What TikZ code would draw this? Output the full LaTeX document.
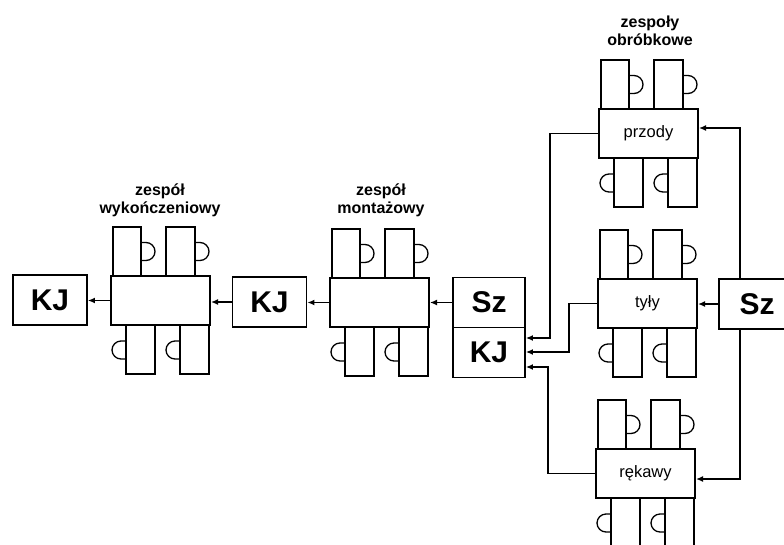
\documentclass[tikz,border=0pt]{standalone}
\usepackage{fontspec}
\setmainfont{Liberation Sans}
\usetikzlibrary{arrows.meta}
\tikzset{
  worker/.style={draw, line width=1.3pt},
  stbox/.style={draw, fill=white, line width=2.1pt, minimum width=99pt, minimum height=49pt, inner sep=0pt, font=\fontsize{16.5}{18}\selectfont},
  bigbox/.style={draw, fill=white, line width=1.9pt, minimum width=74pt, minimum height=50pt, inner sep=0pt, font=\fontsize{30}{32}\selectfont\bfseries},
  grp/.style={align=center, inner sep=0pt, font=\fontsize{16}{18}\selectfont\bfseries},
  arr/.style={line width=1.3pt, -{Latex[length=7pt,width=6pt]}},
  link/.style={line width=1.3pt}
}
\newcommand\mystation[4]{%
  \begin{scope}[shift={(#2,#3)}]
    \draw[worker] (2,-49) rectangle (30,0);
    \draw[worker] (55,-49) rectangle (84,0);
    \draw[worker] (30,-33.5) -- (35,-33.5) arc[start angle=90,end angle=-90,radius=9pt] -- (30,-15.5);
    \draw[worker] (84,-33.5) -- (89,-33.5) arc[start angle=90,end angle=-90,radius=9pt] -- (84,-15.5);
    \draw[worker] (15,49) rectangle (44,98);
    \draw[worker] (69,49) rectangle (98,98);
    \draw[worker] (15,65) -- (10,65) arc[start angle=90,end angle=270,radius=9pt] -- (15,83);
    \draw[worker] (69,65) -- (64,65) arc[start angle=90,end angle=270,radius=9pt] -- (69,83);
  \end{scope}
  \node[stbox] (#1) at (#2+49.5,#3+24.5) {#4};
}
\begin{document}
\begin{tikzpicture}[x=1pt,y=-1pt]
\useasboundingbox (0,0) rectangle (784,544);
\clip (0,0) rectangle (784,544);
\fill[white] (0,0) rectangle (784,544);

% stations
\mystation{wyk}{111}{276}{}
\mystation{mont}{330}{278}{}
\mystation{przody}{599}{109}{przody}
\mystation{tyly}{598}{279}{tyły}
\mystation{rekawy}{596}{449}{rękawy}

% big boxes
\node[bigbox] (kj1) at (50,300) {KJ};
\node[bigbox] (kj2) at (269.5,302) {KJ};
\node[bigbox, minimum width=72pt] (sz1) at (489,302.5) {Sz};
\node[bigbox, minimum width=72pt] (kj3) at (489,352.5) {KJ};
\node[bigbox, minimum width=76pt] (sz2) at (757,304) {Sz};

% labels
\node[grp] (l1) at (160,200) {zespół\\wykończeniowy};
\node[grp] (l2) at (381,200) {zespół\\montażowy};
\node[grp] (l3) at (650,31) {zespoły\\obróbkowe};

% main flow
\draw[arr] (wyk.west) -- (wyk.west -| kj1.east);
\draw[arr] (kj2.west) -- (kj2.west -| wyk.east);
\draw[arr] (mont.west) -- (mont.west -| kj2.east);
\draw[arr] (sz1.west) -- (sz1.west -| mont.east);
\draw[arr] (sz2.west) -- (sz2.west -| tyly.east);

% feeds into KJ
\coordinate (p1) at (550,338);
\coordinate (p2) at (569,352);
\coordinate (p3) at (548,367);
\draw[arr] (przody.west) -| (p1) -- (p1 -| kj3.east);
\draw[arr] (tyly.west) -| (p2) -- (p2 -| kj3.east);
\draw[arr] (rekawy.west) -| (p3) -- (p3 -| kj3.east);

% supply from Sz
\coordinate (q1) at (740,128);
\coordinate (q2) at (740,479);
\draw[arr] (sz2.north -| q1) -- (q1) -- (q1 -| przody.east);
\draw[arr] (sz2.south -| q1) -- (q2) -- (q2 -| rekawy.east);
\end{tikzpicture}
\end{document}
